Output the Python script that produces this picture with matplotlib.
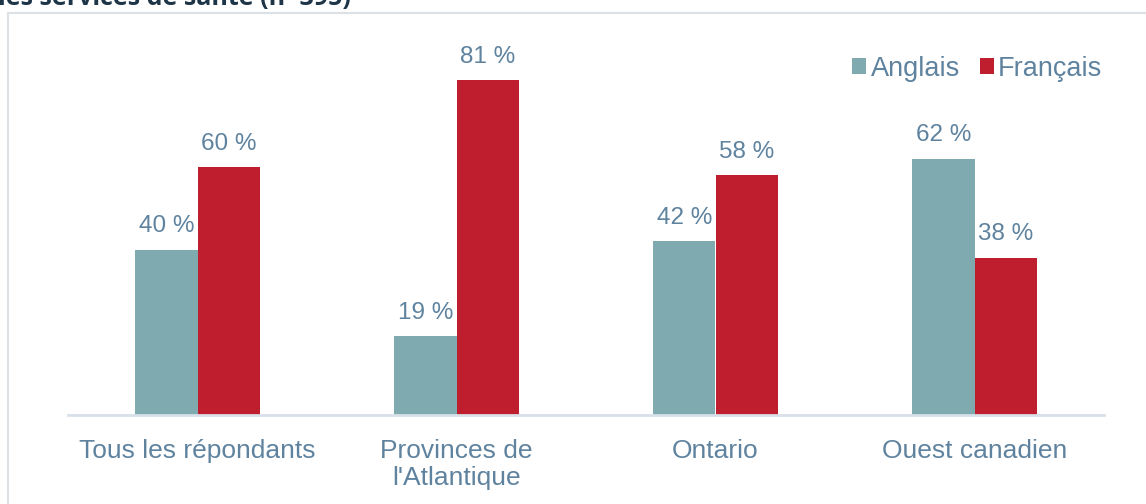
import matplotlib.pyplot as plt
import numpy as np
from matplotlib.patches import Rectangle

categories = ["Tous les répondants", "Provinces de\nl'Atlantique", "Ontario", "Ouest canadien"]
anglais = [40, 19, 42, 62]
francais = [60, 81, 58, 38]
series_names = ["Anglais", "Français"]

teal = "#7FAAB0"
red = "#BE1E2D"
text_color = "#5F839F"

plt.rcParams['font.family'] = ['Liberation Sans', 'DejaVu Sans']

fig = plt.figure(figsize=(11.46, 5.04), dpi=100)

# frame around the chart (cut off on the right and bottom)
fig.patches.append(Rectangle((8 / 1146, -0.05), 1.2, 1 - 13 / 504 + 0.05,
                             transform=fig.transFigure, fill=False,
                             edgecolor="#DCE1E6", linewidth=1.5))

# title, mostly cut off at the top
fig.text(-0.002, 1 - 5 / 504, "les services de santé (n=395)", fontsize=18,
         fontweight='bold', color="#1E3548", va='baseline', ha='left',
         family=['Open Sans', 'DejaVu Sans'])

ax = fig.add_axes([68 / 1146, (504 - 415) / 504, (1104 - 68) / 1146, (415 - 43) / 504])

x = np.arange(len(categories))
width = 0.24
b1 = ax.bar(x - width / 2, anglais, width, color=teal, label=series_names[0])
b2 = ax.bar(x + width / 2, francais, width, color=red, label=series_names[1])

for bars, vals in ((b1, anglais), (b2, francais)):
    ax.bar_label(bars, labels=[f"{v} %" for v in vals], padding=9,
                 fontsize=17.5, color=text_color)

ax.set_xlim(-0.5, 3.5)
ax.set_ylim(0, 90)
ax.set_xticks(x)
ax.set_xticklabels(categories, fontsize=19, color=text_color, linespacing=1.2)
ax.tick_params(axis='x', length=0, pad=17)
ax.set_yticks([])

for s in ('top', 'right', 'left'):
    ax.spines[s].set_visible(False)
ax.spines['bottom'].set_color("#D8E0E9")
ax.spines['bottom'].set_linewidth(2)

ax.legend(loc='upper right', bbox_to_anchor=(1.009, 0.995), ncol=2, frameon=False,
          fontsize=19.5, labelcolor=text_color, handlelength=0.52, handleheight=0.52,
          handletextpad=0.15, columnspacing=0.75, borderaxespad=0)

fig.savefig("out.png", dpi=100)
